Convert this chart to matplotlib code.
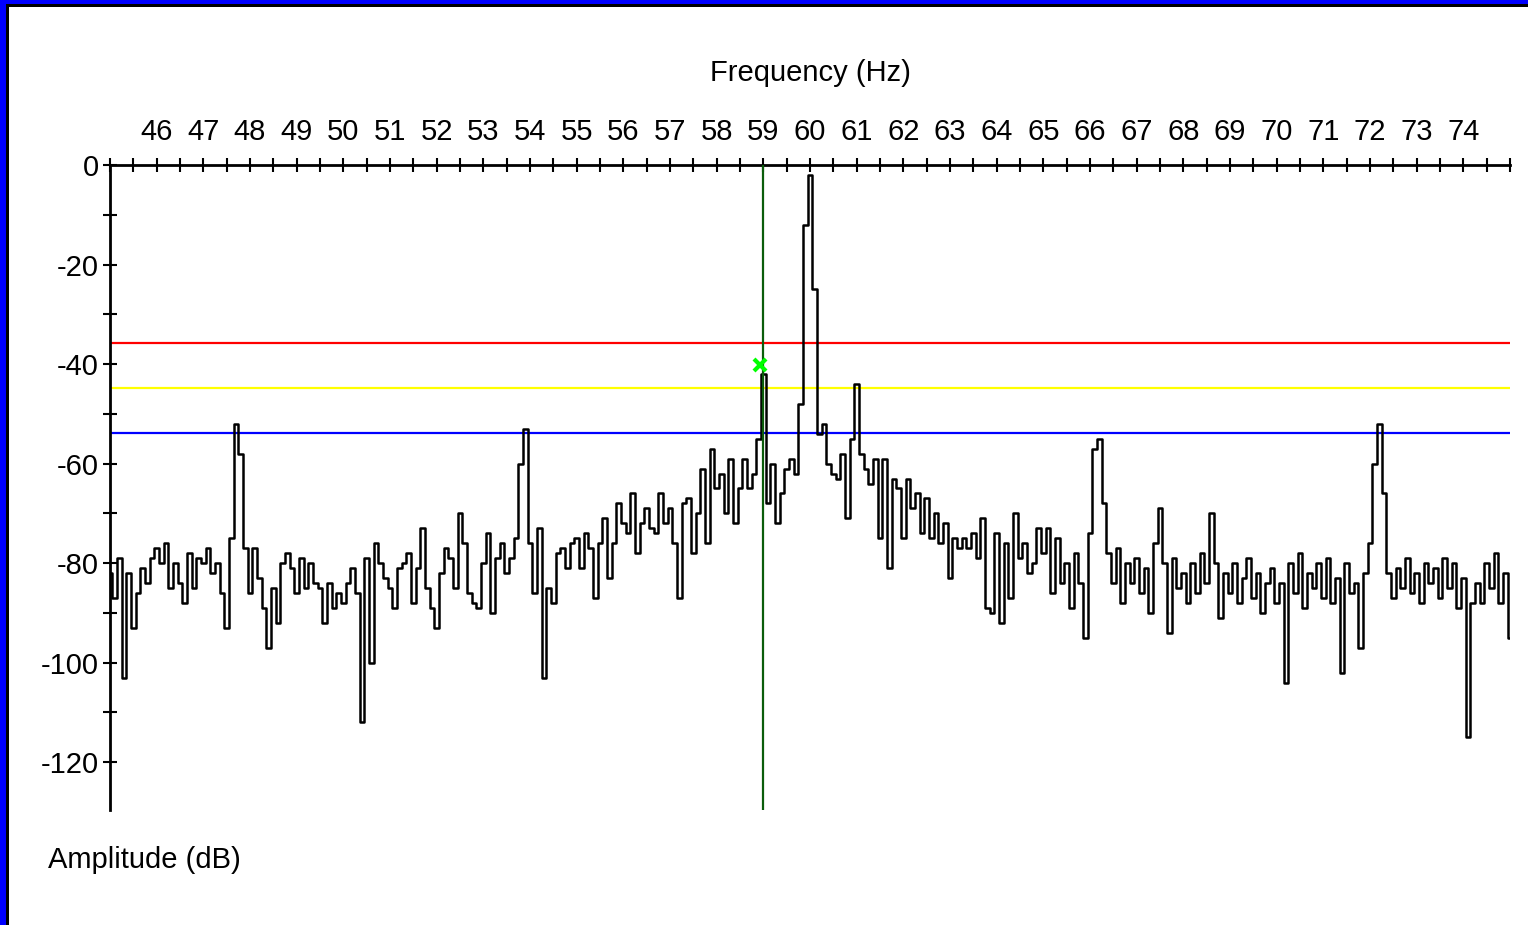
import numpy as np
import matplotlib
matplotlib.use('Agg')
import matplotlib.pyplot as plt
from matplotlib.patches import Rectangle

# spectrum, 0.1 Hz steps starting at 45.0 Hz
amp_45 = [-82, -87, -79, -103, -82, -93, -86, -81, -84, -79]
amp_46 = [-77, -80, -76, -85, -80, -84, -88, -78, -85, -79]
amp_47 = [-80, -77, -82, -80, -86, -93, -75, -52, -58, -77]
amp_48 = [-86, -77, -83, -89, -97, -85, -92, -80, -78, -81]
amp_49 = [-86, -79, -85, -80, -84, -85, -92, -84, -89, -86]
amp_50 = [-88, -84, -81, -86, -112, -79, -100, -76, -80, -83]
amp_51 = [-85, -89, -81, -80, -78, -88, -81, -73, -85, -89]
amp_52 = [-93, -82, -77, -79, -85, -70, -76, -86, -88, -89]
amp_53 = [-80, -74, -90, -79, -76, -82, -79, -75, -60, -53]
amp_54 = [-76, -86, -73, -103, -85, -88, -78, -77, -81, -76]
amp_55 = [-75, -81, -74, -77, -87, -76, -71, -83, -76, -68]
amp_56 = [-72, -74, -66, -78, -72, -69, -73, -74, -66, -72]
amp_57 = [-69, -76, -87, -68, -67, -78, -70, -61, -76, -57]
amp_58 = [-65, -62, -70, -59, -72, -65, -59, -65, -62, -55]
amp_59 = [-42, -68, -60, -72, -66, -61, -59, -62, -48, -12]
amp_60 = [-2, -25, -54, -52, -60, -62, -63, -58, -71, -55]
amp_61 = [-44, -58, -61, -64, -59, -75, -59, -81, -63, -65]
amp_62 = [-75, -63, -69, -66, -74, -67, -75, -70, -76, -72]
amp_63 = [-83, -75, -77, -75, -77, -74, -79, -71, -89, -90]
amp_64 = [-74, -92, -76, -87, -70, -79, -76, -82, -80, -73]
amp_65 = [-78, -73, -86, -75, -84, -80, -89, -78, -84, -95]
amp_66 = [-74, -57, -55, -68, -78, -84, -77, -88, -80, -84]
amp_67 = [-79, -86, -81, -90, -76, -69, -80, -94, -79, -85]
amp_68 = [-82, -88, -80, -86, -78, -84, -70, -80, -91, -82]
amp_69 = [-86, -80, -88, -83, -79, -87, -82, -90, -84, -81]
amp_70 = [-88, -84, -104, -80, -86, -78, -89, -82, -85, -80]
amp_71 = [-87, -79, -88, -83, -102, -80, -86, -84, -97, -82]
amp_72 = [-76, -60, -52, -66, -82, -87, -81, -85, -79, -86]
amp_73 = [-82, -88, -80, -84, -81, -87, -79, -85, -80, -89]
amp_74 = [-83, -115, -88, -84, -88, -80, -85, -78, -88, -82]
amp_75 = [-95]

amp_db = (amp_45 + amp_46 + amp_47 + amp_48 + amp_49 + amp_50 + amp_51 + amp_52
          + amp_53 + amp_54 + amp_55 + amp_56 + amp_57 + amp_58 + amp_59 + amp_60
          + amp_61 + amp_62 + amp_63 + amp_64 + amp_65 + amp_66 + amp_67 + amp_68
          + amp_69 + amp_70 + amp_71 + amp_72 + amp_73 + amp_74 + amp_75)
freq = np.round(45.0 + 0.1 * np.arange(len(amp_db)), 1)

# alarm levels and cursor
level_red = -35.8
level_yellow = -44.8
level_blue = -53.9
cursor_freq = 59.0
cursor_mark = (58.92, -40.2)

x_labels = list(range(46, 75))

plt.rcParams['font.family'] = ['Liberation Sans', 'DejaVu Sans']
plt.rcParams['axes.unicode_minus'] = False

fig = plt.figure(figsize=(15.28, 9.25), dpi=100)
ax = fig.add_axes([110 / 1528, 1 - 810 / 925, 1400 / 1528, 645 / 925])

ax.axhline(level_red, color='#ff0000', lw=1.6, zorder=1)
ax.axhline(level_yellow, color='#ffff00', lw=1.6, zorder=1)
ax.axhline(level_blue, color='#0000ff', lw=1.6, zorder=1)
ax.plot(freq, amp_db, color='black', lw=1.8, drawstyle='steps-mid', zorder=2)
ax.axvline(cursor_freq, color='#0b5d0b', lw=1.6, zorder=3)
ax.plot(*cursor_mark, marker='x', color='#00ff00', ms=9, mew=3, zorder=4)

ax.set_xlim(45, 75)
ax.set_ylim(-129.6, 0)

ticks = np.arange(45, 75.01, 0.5)
ax.set_xticks(ticks)
ax.set_xticklabels([str(int(t)) if t == int(t) and int(t) in x_labels else '' for t in ticks])
ax.set_yticks(np.arange(-120, 1, 20))
ax.set_yticks(np.arange(-120, 1, 10), minor=True)

ax.xaxis.tick_top()
ax.tick_params(axis='x', which='both', direction='inout', length=10, width=1.5,
               labelsize=21, pad=9)
ax.tick_params(axis='y', which='both', direction='inout', length=10, width=1.5,
               labelsize=21, pad=3)

for side in ['right', 'bottom']:
    ax.spines[side].set_visible(False)
for side in ['top', 'left']:
    ax.spines[side].set_linewidth(2)

fig.text(810 / 1528, 1 - 73 / 925, 'Frequency (Hz)', ha='center', va='center', fontsize=21)
fig.text(48 / 1528, 1 - 860 / 925, 'Amplitude (dB)', ha='left', va='center', fontsize=21)

# window frame (blue with a black inner line) on the left and top
fig.add_artist(Rectangle((0, 0), 6 / 1528, 1, transform=fig.transFigure,
                         color='#0000ff', lw=0))
fig.add_artist(Rectangle((6 / 1528, 0), 3 / 1528, 1 - 4 / 925, transform=fig.transFigure,
                         color='black', lw=0))
fig.add_artist(Rectangle((0, 1 - 4 / 925), 1, 4 / 925, transform=fig.transFigure,
                         color='#0000ff', lw=0))
fig.add_artist(Rectangle((6 / 1528, 1 - 7 / 925), 1, 3 / 925, transform=fig.transFigure,
                         color='black', lw=0))

fig.savefig('out.png', dpi=100)
